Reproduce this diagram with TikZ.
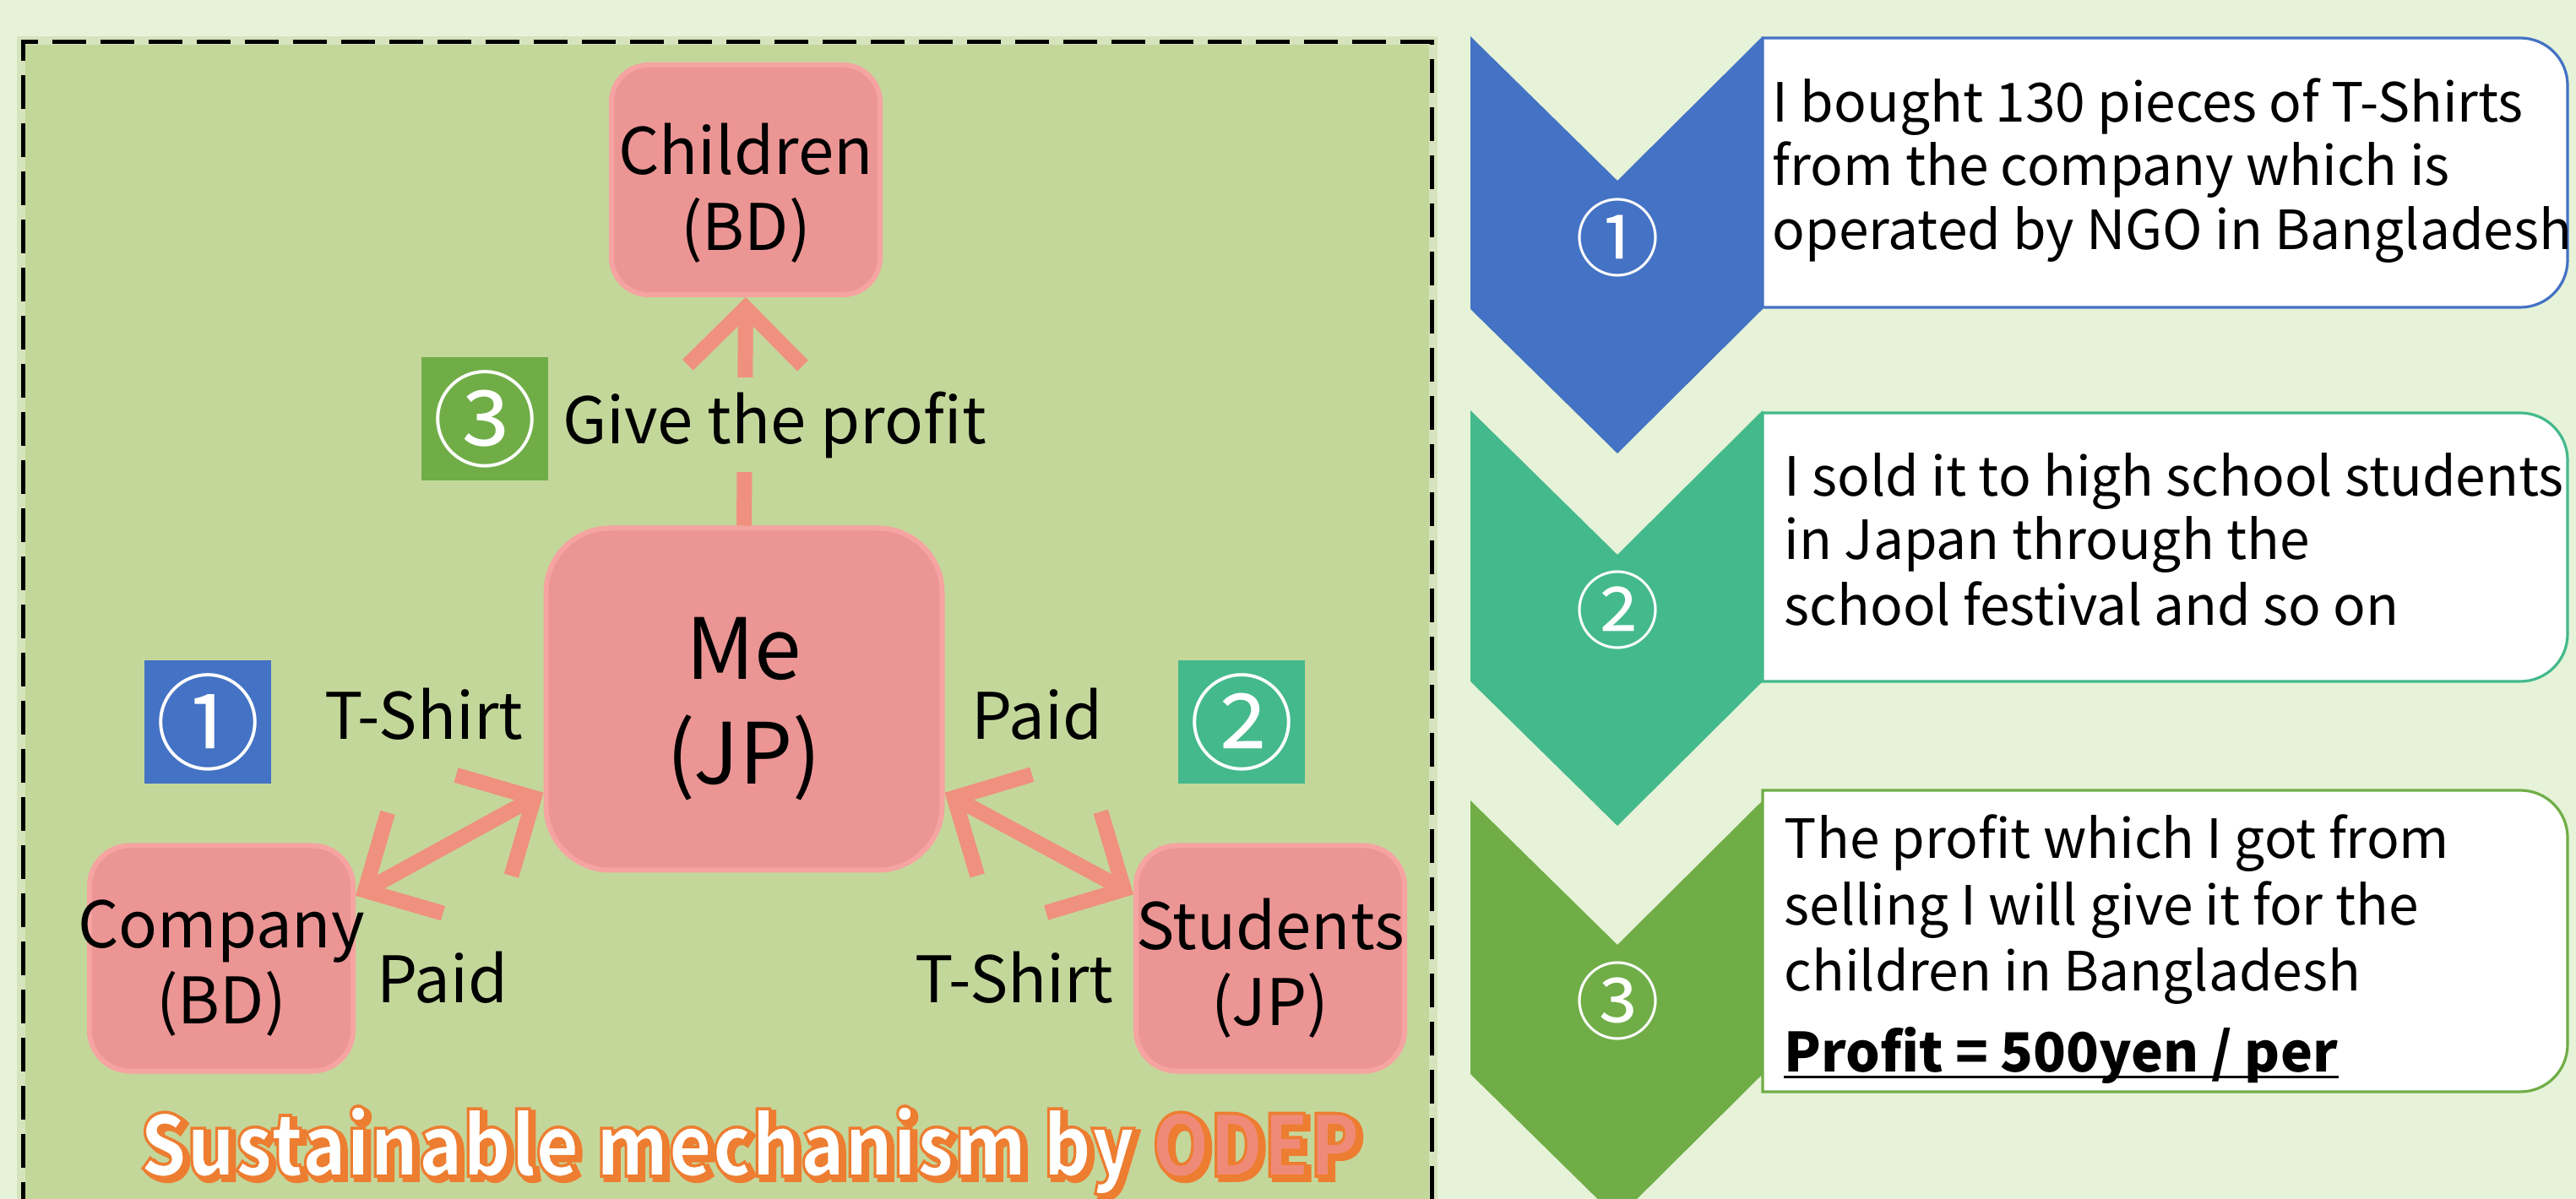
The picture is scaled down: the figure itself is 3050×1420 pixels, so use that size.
\documentclass[tikz,border=0pt]{standalone}
\usepackage{fontspec}
\setmainfont{Noto Sans CJK JP}
\usetikzlibrary{arrows.meta}
\definecolor{bg}{HTML}{E6F3D8}
\definecolor{panel}{HTML}{C4D79B}
\definecolor{paneledge}{HTML}{D6E4BD}
\definecolor{pinkbox}{HTML}{EB9594}
\definecolor{pinkglow}{HTML}{F5A4A1}
\definecolor{arrowc}{HTML}{F0907F}
\definecolor{cblue}{HTML}{4472C4}
\definecolor{cteal}{HTML}{44B98C}
\definecolor{cgreen}{HTML}{70AD47}
\definecolor{corange}{HTML}{ED7D31}
\definecolor{csalmon}{HTML}{F08A78}
\newcommand{\strokeon}[1]{\special{pdf:literal direct 2 Tr #1 w 0.929 0.490 0.192 RG}}
\newcommand{\strokeoff}{\special{pdf:literal direct 0 Tr}}
\begin{document}
\begin{tikzpicture}[x=0.25pt,y=-0.25pt,
  actor/.style={fill=pinkbox, draw=pinkglow, line width=1.5pt, rounded corners=#1, inner sep=0pt},
  boxtext/.style={inner sep=0pt, align=center, font=\fontsize{19}{22.5}\selectfont},
  lbl/.style={anchor=base, inner sep=0pt, font=\fontsize{19}{22}\selectfont},
  badge/.style={minimum width=37.5pt, minimum height=36.5pt, inner sep=0pt,
    text=white, font=\fontsize{31}{31}\selectfont},
  barbtip/.tip={Straight Barb[length=17pt,width=34pt,line width=4.5pt]},
  link/.style={draw=arrowc, line width=4.5pt},
  rtext/.style={anchor=base west, inner sep=0pt, font=\fontsize{16}{18}\selectfont},
  cnum/.style={text=white, inner sep=0pt, font=\fontsize{25}{25}\selectfont},
  tbox/.style={line width=0.8pt, fill=white},
  ttl/.style={anchor=base, inner sep=0pt, font=\fontsize{25}{25}\selectfont\bfseries}
]
\useasboundingbox (0,0) rectangle (3050,1420);
\fill[bg] (0,0) rectangle (3050,1420);
% left panel
\fill[paneledge] (20,43) rectangle (1702,1430);
\fill[panel] (30,53) rectangle (1692,1430);
\draw[black, line width=1.25pt, dash pattern=on 10pt off 4.25pt] (27,1440) -- (27,50) -- (1695,50) -- (1695,1440);

% actors
\node[actor=11pt, minimum width=79.5pt, minimum height=68pt] (children) at (883,213) {};
\node[actor=19pt, minimum width=117.25pt, minimum height=101.25pt] (me) at (881,828) {};
\node[actor=12pt, minimum width=78pt, minimum height=66.75pt] (company) at (262,1135) {};
\node[actor=12pt, minimum width=79.5pt, minimum height=66.75pt] (students) at (1504,1135) {};
\node[boxtext] (childrentxt) at ([yshift=-4pt]children.center) {Children\\(BD)};
\node[boxtext, font=\fontsize{25}{31}\selectfont] (metxt) at ([yshift=-3pt]me.center) {Me\\(JP)};
\node[boxtext] (companytxt) at ([yshift=-3pt]company.center) {Company\\(BD)};
\node[boxtext] (studentstxt) at ([yshift=-3pt]students.center) {Students\\(JP)};

% connectors
\draw[link, -{barbtip}] (me.north) -- (children.south);
\draw[link, {barbtip}-{barbtip}] (company.25) -- (me.205);
\draw[link, {barbtip}-{barbtip}] (me.335) -- (students.155);

% labels
\node[lbl, anchor=center, fill=panel, minimum height=28pt] (give) at (917,503) {Give the profit};
\node[badge, fill=cgreen] (b3) at (574,496) {③};
\node[badge, fill=cblue] (b1) at (246,855) {①};
\node[badge, fill=cteal] (b2) at (1470,855) {②};
\node[lbl] (ts1) at (502,876) {T-Shirt};
\node[lbl] (pd1) at (1228,876) {Paid};
\node[lbl] (pd2) at (524,1187) {Paid};
\node[lbl] (ts2) at (1201,1187) {T-Shirt};

% title
\node[ttl, text=corange] (titleshadow) at (893,1397)
  {\scalebox{0.87}[1]{\strokeon{1.4}Sustainable mechanism by ODEP\strokeoff}};
\node[ttl] (title) at (888,1393)
  {\scalebox{0.87}[1]{\color{white}\strokeon{0.9}Sustainable mechanism by
   \color{csalmon}\strokeon{0.9}ODEP\strokeoff}};

% right chevrons
\fill[cblue] (1741,43) -- (1915,214) -- (2087,43) -- (2087,366) -- (1915,537) -- (1741,366) -- cycle;
\fill[cteal] (1741,486) -- (1915,657) -- (2087,486) -- (2087,807) -- (1915,978) -- (1741,807) -- cycle;
\fill[cgreen] (1741,948) -- (1915,1119) -- (2087,948) -- (2087,1272) -- (1915,1443) -- (1741,1272) -- cycle;
\node[cnum] (n1) at (1915,282) {①};
\node[cnum] (n2) at (1915,723) {②};
\node[cnum] (n3) at (1915,1185) {③};

% text boxes
\draw[tbox, draw=cblue] (2087,45) -- (2984,45) arc[start angle=90,end angle=0,radius=14pt]
  -- (3040,308) arc[start angle=0,end angle=-90,radius=14pt] -- (2087,364) -- cycle;
\draw[tbox, draw=cteal] (2087,489) -- (2984,489) arc[start angle=90,end angle=0,radius=14pt]
  -- (3040,751) arc[start angle=0,end angle=-90,radius=14pt] -- (2087,807) -- cycle;
\draw[tbox, draw=cgreen] (2087,936) -- (2984,936) arc[start angle=90,end angle=0,radius=14pt]
  -- (3040,1237) arc[start angle=0,end angle=-90,radius=14pt] -- (2087,1293) -- cycle;

\node[rtext] (t1a) at (2098,145) {I bought 130 pieces of T-Shirts};
\node[rtext] (t1b) at (2098,220) {from the company which is};
\node[rtext] (t1c) at (2098,296) {operated by NGO in Bangladesh};
\node[rtext] (t2a) at (2112,588) {I sold it to high school students};
\node[rtext] (t2b) at (2112,663) {in Japan through the};
\node[rtext] (t2c) at (2112,741) {school festival and so on};
\node[rtext] (t3a) at (2112,1017) {The profit which I got from};
\node[rtext] (t3b) at (2112,1095) {selling I will give it for the};
\node[rtext] (t3c) at (2112,1173) {children in Bangladesh};
\node[rtext] (t3d) at (2112,1269) {\bfseries Profit = 500yen / per};
\draw[black, line width=0.85pt] ([yshift=-1.6pt]t3d.base west) -- ([yshift=-1.6pt]t3d.base east);
\end{tikzpicture}
\end{document}
